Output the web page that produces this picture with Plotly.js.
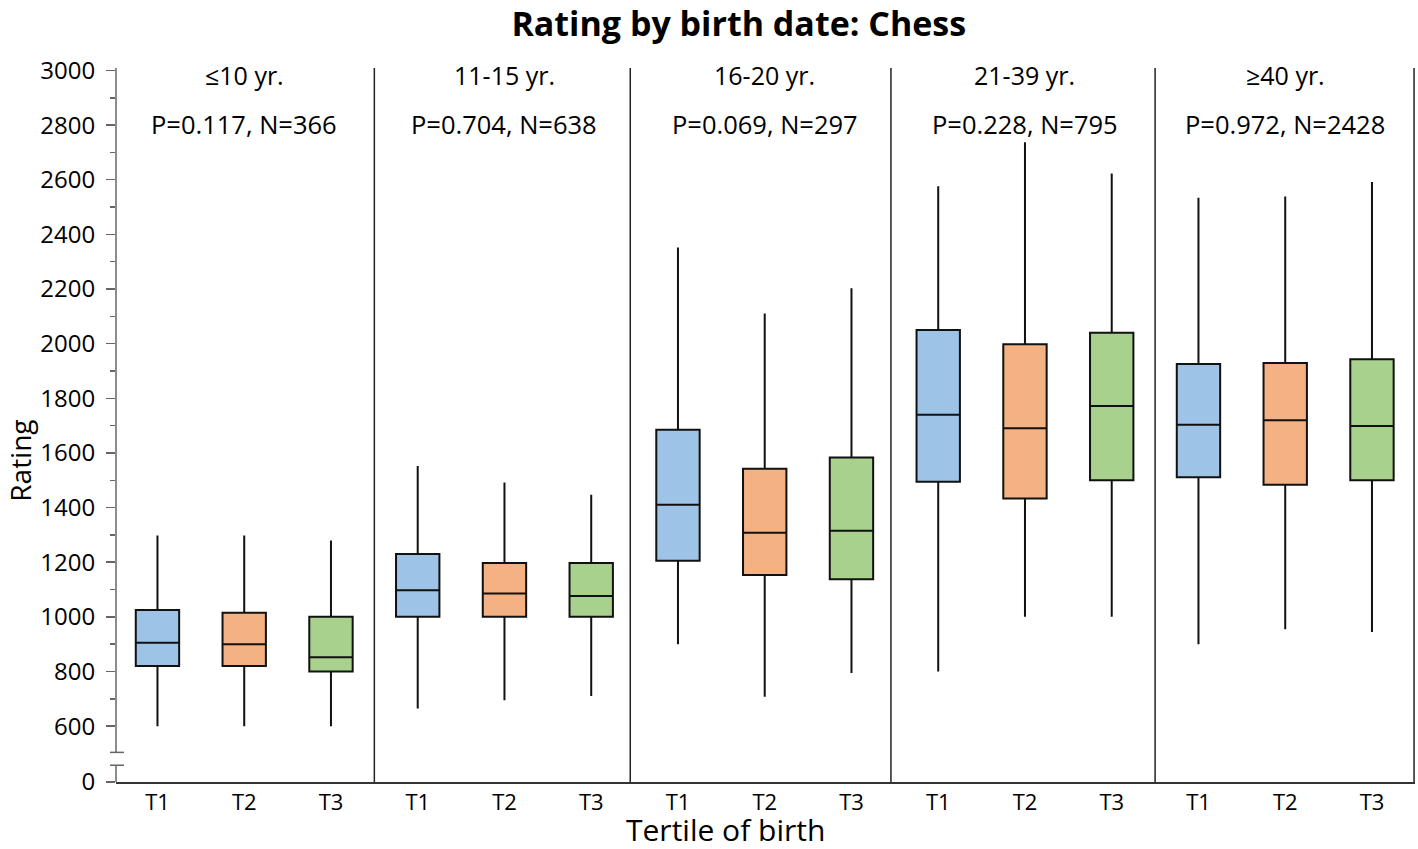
<!DOCTYPE html>
<html>
<head>
<meta charset="utf-8">
<script src="https://cdn.plot.ly/plotly-3.0.1.min.js"></script>
<style>html,body{margin:0;padding:0;background:#fff;}#chart{width:1418px;height:849px;}</style>
</head>
<body>
<div id="chart"></div>
<script>
// ---- data ----
const groups = ['≤10 yr.', '11-15 yr.', '16-20 yr.', '21-39 yr.', '≥40 yr.'];
const pValues = ['0.117', '0.704', '0.069', '0.228', '0.972'];
const nValues = ['366', '638', '297', '795', '2428'];
const tertiles = ['T1', 'T2', 'T3'];

// per tertile, one value per age group
const t1Lower  = [600, 665, 900, 800, 900];
const t1Q1     = [820, 1000, 1205, 1495, 1511];
const t1Median = [905, 1097, 1410, 1740, 1703];
const t1Q3     = [1025, 1230, 1685, 2050, 1926];
const t1Upper  = [1298, 1552, 2352, 2576, 2534];

const t2Lower  = [600, 695, 708, 1000, 955];
const t2Q1     = [820, 1000, 1153, 1433, 1484];
const t2Median = [900, 1086, 1308, 1690, 1720];
const t2Q3     = [1015, 1197, 1542, 1998, 1929];
const t2Upper  = [1298, 1492, 2110, 2737, 2539];

const t3Lower  = [600, 710, 795, 1000, 945];
const t3Q1     = [800, 1000, 1138, 1500, 1500];
const t3Median = [852, 1076, 1315, 1772, 1699];
const t3Q3     = [1000, 1197, 1583, 2040, 1943];
const t3Upper  = [1280, 1447, 2203, 2623, 2592];

const yTickValues = [600, 800, 1000, 1200, 1400, 1600, 1800, 2000, 2200, 2400, 2600, 2800, 3000];
const yMinorValues = [700, 900, 1100, 1300, 1500, 1700, 1900, 2100, 2300, 2500, 2700, 2900];

// ---- layout helpers (axis break: "0" drawn below a break) ----
const ZERO_POS = 395.6;      // position used for the "0" label below the break
const BREAK_LOW = 457;       // lower break cap
const BREAK_HIGH = 504;      // upper break cap
const Y_TOP = 3009;

const colors = ['#9DC3E6', '#F4B183', '#A9D18E'];
const lows = [t1Lower, t2Lower, t3Lower];
const q1s = [t1Q1, t2Q1, t3Q1];
const meds = [t1Median, t2Median, t3Median];
const q3s = [t1Q3, t2Q3, t3Q3];
const ups = [t1Upper, t2Upper, t3Upper];

const traces = tertiles.map((t, k) => ({
  type: 'box',
  name: t,
  x: groups.map((g, gi) => gi * 3 + k),
  lowerfence: lows[k],
  q1: q1s[k],
  median: meds[k],
  q3: q3s[k],
  upperfence: ups[k],
  width: 0.5,
  whiskerwidth: 0,
  fillcolor: colors[k],
  line: {color: '#111', width: 2},
  boxpoints: false,
  hoverinfo: 'skip',
  showlegend: false
}));

const xTickVals = [];
const xTickText = [];
groups.forEach((g, gi) => tertiles.forEach((t, k) => { xTickVals.push(gi * 3 + k); xTickText.push(t); }));

const dividers = [2.5, 5.45, 8.455, 11.5, 14.485];
const shapes = [];
dividers.forEach(d => shapes.push({type: 'line', xref: 'x', yref: 'paper', x0: d, x1: d, y0: 0, y1: 1, line: {color: '#222', width: 1.5}}));
// broken y axis
const axisLine = {color: '#666', width: 1.5};
shapes.push({type: 'line', xref: 'paper', yref: 'y', x0: 0, x1: 0, y0: BREAK_HIGH, y1: Y_TOP, line: axisLine});
shapes.push({type: 'line', xref: 'paper', yref: 'y', x0: 0, x1: 0, y0: ZERO_POS, y1: BREAK_LOW, line: axisLine});
[BREAK_LOW, BREAK_HIGH].forEach(v => shapes.push({type: 'line', xref: 'paper', xsizemode: 'pixel', xanchor: 0, x0: -6, x1: 8, yref: 'y', y0: v, y1: v, line: axisLine}));

const annotations = [];
groups.forEach((g, gi) => {
  annotations.push({x: gi * 3 + 1, y: 2982, xref: 'x', yref: 'y', text: g, showarrow: false, font: {size: 25, color: '#000'}});
  annotations.push({x: gi * 3 + 1, y: 2805, xref: 'x', yref: 'y', text: 'P=' + pValues[gi] + ', N=' + nValues[gi], showarrow: false, font: {size: 25.5, color: '#000'}});
});
// y-axis title as annotation (sits slightly below the axis middle in the reference)
annotations.push({xref: 'paper', yref: 'paper', x: 0, xanchor: 'center', xshift: -96, y: 0.45, yanchor: 'middle', text: 'Rating', textangle: -90, showarrow: false, font: {size: 28, color: '#000'}});
// x-axis title
annotations.push({xref: 'paper', yref: 'paper', x: 0.5, xanchor: 'center', xshift: -40, y: 0, yshift: -47, yanchor: 'middle', text: 'Tertile of birth', showarrow: false, font: {size: 30, color: '#000'}});

const layout = {
  width: 1418, height: 849,
  paper_bgcolor: '#fff', plot_bgcolor: '#fff',
  font: {family: '"Open Sans", "Noto Sans", sans-serif', color: '#000'},
  margin: {l: 116, r: 3, t: 68, b: 67},
  title: {text: '<b>Rating by birth date: Chess</b>', xref: 'container', x: 0.521, xanchor: 'center', yref: 'container', y: 0.972, yanchor: 'middle', font: {size: 34, color: '#000'}},
  boxmode: 'overlay',
  showlegend: false,
  xaxis: {
    range: [-0.478, 14.496],
    tickmode: 'array', tickvals: xTickVals, ticktext: xTickText,
    ticks: '', showgrid: false, zeroline: false,
    showline: true, linecolor: '#333', linewidth: 1.5,
    tickfont: {size: 22, color: '#000'}
  },
  yaxis: {
    range: [ZERO_POS, Y_TOP],
    tickmode: 'array', tickvals: [ZERO_POS].concat(yTickValues), ticktext: ['0'].concat(yTickValues.map(String)),
    ticks: 'outside', ticklen: 9, tickwidth: 1.5, tickcolor: '#666',
    minor: {tickmode: 'array', tickvals: yMinorValues, ticks: 'outside', ticklen: 5, tickwidth: 1.5, tickcolor: '#666', showgrid: false},
    showgrid: false, zeroline: false, showline: false,
    tickfont: {size: 24, color: '#000'},
    ticklabelstandoff: 6
  },
  shapes: shapes,
  annotations: annotations
};

Plotly.newPlot('chart', traces, layout, {displayModeBar: false, staticPlot: true});
</script>
</body>
</html>
